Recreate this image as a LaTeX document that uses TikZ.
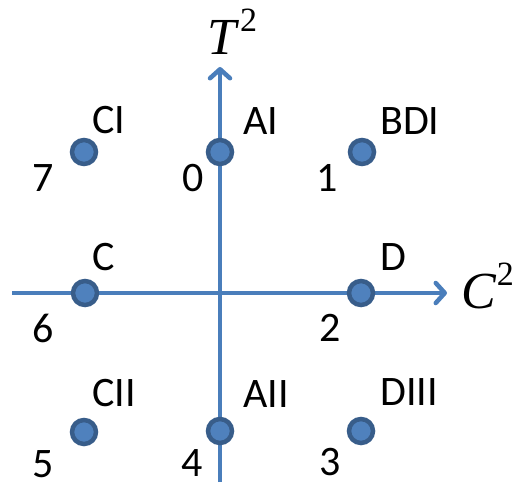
\documentclass[tikz,border=0pt]{standalone}
\usepackage{fontspec}
\setmainfont{Carlito}
\newfontfamily\axisfont{Liberation Serif}
\usetikzlibrary{arrows.meta,positioning,calc}
\definecolor{axisblue}{HTML}{4A7EBB}
\definecolor{dotfill}{HTML}{4F81BD}
\definecolor{dotline}{HTML}{385D8A}
\newcommand{\sqmark}{\raisebox{23pt}{\axisfont\fontsize{34}{36}\selectfont 2}}

\begin{document}
\begin{tikzpicture}[x=1pt, y=-1pt,
    dot/.style={circle, draw=dotline, fill=dotfill, line width=4.5pt,
                minimum size=24pt, inner sep=0pt},
    axis/.style={draw=axisblue, line width=4.5pt,
                 -{Straight Barb[length=9pt, width=20pt, round]}},
    cls/.style={font=\fontsize{42}{46}\selectfont, inner sep=0pt, anchor=base west},
    num/.style={font=\fontsize{42}{46}\selectfont, inner sep=0pt, anchor=north east},
    axlabel/.style={font=\fontsize{52}{58}\selectfont\axisfont, inner sep=0pt}
  ]
  \useasboundingbox (0,0) rectangle (518,484);

  % axes
  \coordinate (west) at (12,293);
  \coordinate (east) at (447,293);
  \coordinate (south) at (220,482);
  \coordinate (north) at (220,67);
  \draw[axis] (west) -- (east);
  \draw[axis] (south) -- (north);
  \node[axlabel, anchor=base west] (T2) at (207,55) {\itshape T\upshape\kern4pt\sqmark};
  \node[axlabel, anchor=base west] (C2) at (461,308) {\itshape C\upshape\kern1pt\sqmark};

  % symmetry classes
  \node[dot] (d7) at (84,152) {};
  \node[dot] (d0) at (220,152) {};
  \node[dot] (d1) at (362,152) {};
  \node[dot] (d6) at (85,293) {};
  \node[dot] (d2) at (361,293) {};
  \node[dot] (d5) at (84,432) {};
  \node[dot] (d4) at (220,431) {};
  \node[dot] (d3) at (361,431) {};

  \node[cls] (nCI)   at ($(d7)+(8,-19)$)  {CI};
  \node[cls] (nAI)   at ($(d0)+(23,-18)$) {AI};
  \node[cls] (nBDI)  at ($(d1)+(18,-18)$) {BDI};
  \node[cls] (nC)    at ($(d6)+(7,-23)$)  {C};
  \node[cls] (nD)    at ($(d2)+(19,-23)$) {D};
  \node[cls] (nCII)  at ($(d5)+(8,-26)$)  {CII};
  \node[cls] (nAII)  at ($(d4)+(23,-24)$) {AII};
  \node[cls] (nDIII) at ($(d3)+(19,-26)$) {DIII};

  \node[num] (k7) at ($(d7)+(-30,12)$) {7};
  \node[num] (k0) at ($(d0)+(-16,12)$) {0};
  \node[num] (k1) at ($(d1)+(-24,12)$) {1};
  \node[num] (k6) at ($(d6)+(-31,21)$) {6};
  \node[num] (k2) at ($(d2)+(-20,21)$) {2};
  \node[num] (k5) at ($(d5)+(-30,18)$) {5};
  \node[num] (k4) at ($(d4)+(-17,18)$) {4};
  \node[num] (k3) at ($(d3)+(-20,17)$) {3};
\end{tikzpicture}
\end{document}
